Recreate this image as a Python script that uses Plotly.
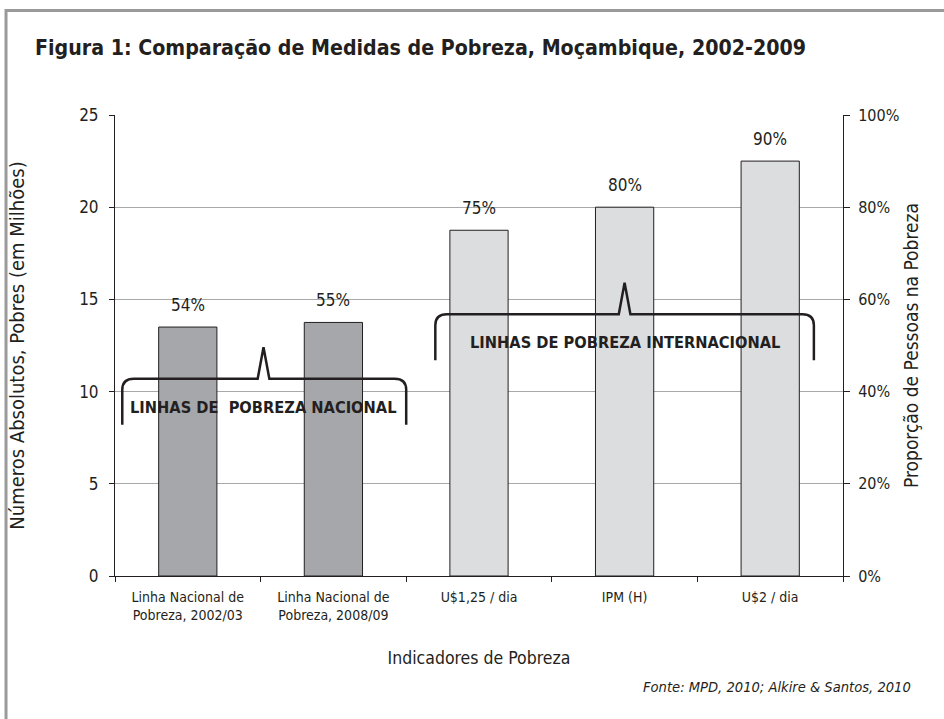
import plotly.graph_objects as go

categories = ["Linha Nacional de<br>Pobreza, 2002/03", "Linha Nacional de<br>Pobreza, 2008/09",
              "U$1,25 / dia", "IPM (H)", "U$2 / dia"]
proportion = [0.54, 0.55, 0.75, 0.80, 0.90]
absolute_millions = [10, 12, 16, 17, 20]
bar_colors = ["#a6a7aa", "#a6a7aa", "#dcdddf", "#dcdddf", "#dcdddf"]

FONT = "Liberation Sans Narrow, DejaVu Sans Condensed, Arial Narrow, sans-serif"
TXT = "#231f20"

fig = go.Figure()
fig.add_trace(go.Bar(x=categories, y=proportion, yaxis="y2", width=0.4,
                     marker=dict(color=bar_colors, line=dict(color="#231f20", width=1)),
                     showlegend=False, hoverinfo="skip"))
fig.add_trace(go.Scatter(x=categories, y=[v / 2 for v in absolute_millions], mode="text",
                         text=[str(v) for v in absolute_millions],
                         textfont=dict(family=FONT, size=17, color=TXT),
                         showlegend=False, hoverinfo="skip"))

annotations = []
for c, p in zip(categories, proportion):
    annotations.append(dict(x=c, y=p, xref="x", yref="y2", text=f"{round(p*100)}%",
                            showarrow=False, yshift=22,
                            font=dict(family=FONT, size=17, color=TXT)))

shapes = []
def brace(x0, x1, xm, yb, ye, yp):
    r = 0.08
    return (f"M {x0},{ye} L {x0},{yb-0.6} Q {x0},{yb} {x0+r},{yb} "
            f"L {xm-0.04},{yb} L {xm},{yp} L {xm+0.04},{yb} "
            f"L {x1-r},{yb} Q {x1},{yb} {x1},{yb-0.6} L {x1},{ye}")
shapes.append(dict(type="path", xref="x", yref="y",
                   path=brace(-0.45, 1.5, 0.52, 10.7, 8.2, 12.4),
                   line=dict(color="#231f20", width=2.5)))
shapes.append(dict(type="path", xref="x", yref="y",
                   path=brace(1.7, 4.3, 3.0, 14.2, 11.7, 15.9),
                   line=dict(color="#231f20", width=2.5)))
annotations.append(dict(x=0.52, y=9.15, xref="x", yref="y", text="<b>LINHAS DE  POBREZA NACIONAL</b>",
                        showarrow=False, font=dict(family=FONT, size=16.3, color=TXT)))
annotations.append(dict(x=3.0, y=12.65, xref="x", yref="y", text="<b>LINHAS DE POBREZA INTERNACIONAL</b>",
                        showarrow=False, font=dict(family=FONT, size=16.3, color=TXT)))
shapes.append(dict(type="rect", xref="paper", yref="paper", x0=-0.1497, x1=1.3, y0=-0.5, y1=1.2267,
                   line=dict(color="#9a9a9a", width=3), layer="below"))
annotations.append(dict(xref="paper", yref="paper", x=(913 - 115) / 728, y=(576 - 686) / 461,
                        xanchor="right", yanchor="middle",
                        text="<i>Fonte: MPD, 2010; Alkire &amp; Santos, 2010</i>", showarrow=False,
                        font=dict(family=FONT, size=14.6, color=TXT)))

fig.update_layout(
    width=944, height=719,
    margin=dict(l=115, r=101, t=115, b=143),
    paper_bgcolor="white", plot_bgcolor="white",
    font=dict(family=FONT, size=16, color=TXT),
    title=dict(text="<b>Figura 1: Comparação de Medidas de Pobreza, Moçambique, 2002-2009</b>",
               x=35 / 944, xanchor="left", y=1 - 48 / 719, yanchor="middle",
               font=dict(family=FONT, size=21.2, color=TXT)),
    xaxis=dict(type="category", showline=True, linecolor="#231f20", linewidth=1,
               ticks="outside", tickson="boundaries", ticklen=5, tickcolor="#231f20",
               tickfont=dict(size=14), range=[-0.5, 4.5], ticklabelstandoff=8,
               title=dict(text="Indicadores de Pobreza", font=dict(size=17.5), standoff=29)),
    yaxis=dict(range=[0, 25], dtick=5, showline=True, linecolor="#231f20", linewidth=1,
               ticks="outside", ticklen=5, tickcolor="#231f20", showgrid=True,
               gridcolor="#a8a8a8", gridwidth=1, zeroline=False, tickfont=dict(size=17),
               ticklabelstandoff=7,
               title=dict(text="Números Absolutos, Pobres (em Milhões)", font=dict(size=20), standoff=49)),
    yaxis2=dict(range=[0, 1], dtick=0.2, tickformat=".0%", overlaying="y", side="right",
                showline=True, linecolor="#231f20", linewidth=1, ticks="outside", ticklen=6,
                tickcolor="#231f20", showgrid=False, zeroline=False, tickfont=dict(size=16),
                ticklabelstandoff=5,
                title=dict(text="Proporção de Pessoas na Pobreza", font=dict(size=19), standoff=6)),
    shapes=shapes, annotations=annotations,
)
fig.write_html("out.html", config={"displayModeBar": False},
               post_script="document.body.style.margin='0px';")
